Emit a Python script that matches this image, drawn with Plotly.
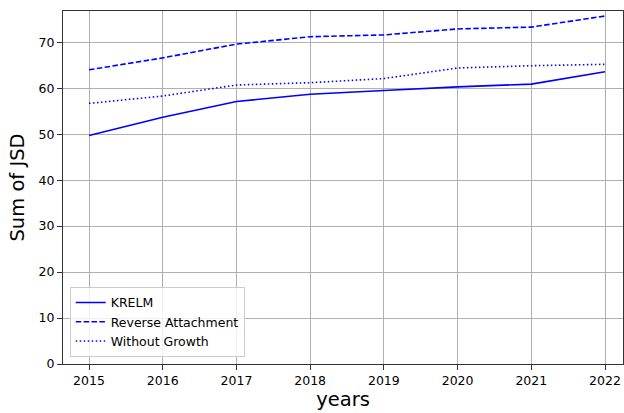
import plotly.graph_objects as go

years = [2015, 2016, 2017, 2018, 2019, 2020, 2021, 2022]
krelm = [49.7, 53.7, 57.1, 58.7, 59.5, 60.3, 60.9, 63.6]
reverse_attachment = [64.0, 66.6, 69.6, 71.2, 71.6, 72.9, 73.3, 75.7]
without_growth = [56.7, 58.3, 60.7, 61.2, 62.1, 64.4, 64.9, 65.2]

series = [
    ('KRELM', krelm, 'solid'),
    ('Reverse Attachment', reverse_attachment, '5.5px,2.4px'),
    ('Without Growth', without_growth, '1.5px,2.5px'),
]

fig = go.Figure()
for name, values, dash in series:
    fig.add_trace(go.Scatter(x=years, y=values, mode='lines', name=name,
                             line=dict(color='#0000ff', width=1.6, dash=dash)))

axis_style = dict(showline=True, linecolor='#333333', linewidth=1, mirror=True,
                  showgrid=True, gridcolor='#b0b0b0', gridwidth=0.8,
                  ticks='outside', ticklen=5, tickcolor='#333333', zeroline=False,
                  tickfont=dict(size=12.5, color='black'))

fig.update_xaxes(range=[2014.647, 2022.244], tickvals=years,
                 title=dict(text='years', font=dict(size=19.5, color='black'), standoff=4),
                 **axis_style)
fig.update_yaxes(range=[0, 76.8], tickvals=[0, 10, 20, 30, 40, 50, 60, 70],
                 title=dict(text='Sum of JSD', font=dict(size=19.5, color='black'), standoff=8),
                 **axis_style)

fig.update_layout(
    width=624, height=413,
    margin=dict(l=63, r=1, t=11, b=49),
    plot_bgcolor='white', paper_bgcolor='white',
    font=dict(family='DejaVu Sans', color='black'),
    legend=dict(x=0.012, y=0.02, xanchor='left', yanchor='bottom',
                bgcolor='rgba(255,255,255,0.8)', bordercolor='#cccccc', borderwidth=1,
                font=dict(size=12.5), tracegroupgap=0, itemwidth=30),
)

# page margin off so the figure sits at the window's corner
fig.write_html("out.html", config={'displayModeBar': False},
               post_script="document.body.style.margin='0';"
                           "document.body.style.overflow='hidden';")
